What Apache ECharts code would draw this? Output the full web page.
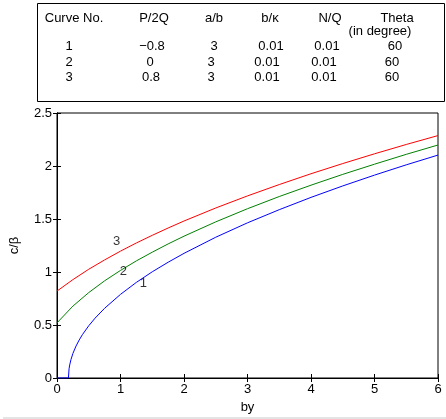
<!DOCTYPE html>
<html><head><meta charset="utf-8">
<script src="https://cdn.jsdelivr.net/npm/echarts@6/dist/echarts.min.js"></script>
<style>html,body{margin:0;padding:0;background:#fff}#c{width:446px;height:419px}</style>
</head><body><div id="c"></div>
<script>
// ---- data ----
var xTicks = [0, 1, 2, 3, 4, 5, 6];
var xs = [0,0.25,0.5,0.75,1,1.25,1.5,1.75,2,2.5,3,3.5,4,4.5,5,5.5,6];
var curve2 = [0.520,0.678,0.806,0.917,1.015,1.105,1.187,1.265,1.338,1.473,1.597,1.712,1.819,1.921,2.017,2.110,2.198];
var curve3 = [0.820,0.928,1.026,1.114,1.197,1.274,1.346,1.415,1.481,1.604,1.718,1.825,1.927,2.023,2.115,2.203,2.287];
var blueX = [0,0.18,0.19,0.2,0.22,0.25,0.3,0.35,0.4,0.5,0.6,0.75,1,1.25,1.5,1.75,2,2.5,3,3.5,4,4.5,5,5.5,6];
var curve1 = [0,0,0.087,0.123,0.174,0.231,0.302,0.359,0.409,0.493,0.565,0.658,0.789,0.902,1.002,1.092,1.176,1.328,1.464,1.588,1.704,1.812,1.914,2.011,2.103];
var curveLabels = [[0.94,1.29,'3'],[1.045,1.005,'2'],[1.36,0.895,'1']];
var tableHeader = ['Curve No.','P/2Q','a/b','b/\u03ba','N/Q','Theta'];
var tableHeader2 = ['','','','','','(in degree)'];
var tableRows = [
  ['1','\u22120.8','3','0.01','0.01','60'],
  ['2','0','3','0.01','0.01','60'],
  ['3','0.8','3','0.01','0.01','60']
];

function zip(a,b){return a.map(function(v,i){return [v,b[i]];});}

var FONT = '"Liberation Sans", Arial, Helvetica, sans-serif';
var FS = 13;
var headX = [74, 154, 214, 270, 330, 397];
var head2X = [0, 0, 0, 0, 0, 380];
var rowX = [
  [69, 152, 214, 271, 327, 395],
  [69, 150, 211, 267, 324, 392],
  [69, 151, 211, 267, 324, 392]
];
var rowY = [46, 62, 77];
var g = [];
g.push({type:'rect', shape:{x:37.5,y:3.5,width:407,height:98}, style:{fill:'none',stroke:'#000',lineWidth:1}});
g.push({type:'line', shape:{x1:3,y1:418,x2:446,y2:418}, style:{stroke:'#c8c8c8',lineWidth:1}});
function txt(t,x,y){
  g.push({type:'text', x:x, y:y, style:{text:t, font:FS+'px '+FONT, fill:'#000', textAlign:'center', textVerticalAlign:'middle'}});
}
tableHeader.forEach(function(t,i){ txt(t, headX[i], 18); });
tableHeader2.forEach(function(t,i){ if(t) txt(t, head2X[i], 31); });
tableRows.forEach(function(r,j){ r.forEach(function(t,i){ txt(t, rowX[j][i], rowY[j]); }); });

var axisCommon = {
  axisLine:{show:true, lineStyle:{color:'#000', width:1}},
  axisTick:{show:true, inside:true, length:4, lineStyle:{color:'#000'}},
  splitLine:{show:false}
};

var chart = echarts.init(document.getElementById('c'), null, {renderer:'canvas'});
chart.setOption({
  animation:false,
  backgroundColor:'#fff',
  textStyle:{fontFamily:FONT},
  graphic:g,
  grid:{left:55, right:8, top:113, bottom:38, show:true, borderColor:'#000', borderWidth:1},
  xAxis:[
    Object.assign({type:'value', min:0, max:6, interval:1, position:'bottom',
      name:'by', nameLocation:'middle', nameGap:23, nameTextStyle:{fontSize:FS, color:'#000', fontFamily:FONT},
      axisLabel:{fontSize:FS, color:'#000', margin:5, fontFamily:FONT}}, axisCommon),
    Object.assign({type:'value', min:0, max:6, interval:1, position:'top', axisLabel:{show:false}}, axisCommon)
  ],
  yAxis:[
    Object.assign({type:'value', min:0, max:2.5, interval:0.5, position:'left',
      name:'c/\u03b2', nameLocation:'middle', nameGap:36, nameRotate:90, nameTextStyle:{fontSize:FS, color:'#000', fontFamily:FONT},
      axisLabel:{fontSize:FS, color:'#000', margin:5, fontFamily:FONT}}, axisCommon),
    Object.assign({type:'value', min:0, max:2.5, interval:0.5, position:'right', axisLabel:{show:false}}, axisCommon)
  ],
  series:[
    {type:'line', data:zip(blueX, curve1), showSymbol:false, lineStyle:{color:'#0000ff', width:1}, z:3},
    {type:'line', data:zip(xs, curve2), showSymbol:false, lineStyle:{color:'#008000', width:1}, z:3},
    {type:'line', data:zip(xs, curve3), showSymbol:false, lineStyle:{color:'#ff0000', width:1}, z:3},
    {type:'scatter', data:curveLabels, symbolSize:1, itemStyle:{color:'rgba(0,0,0,0)'}, z:4, silent:true,
      label:{show:true, position:'inside', formatter:function(p){return p.value[2];}, fontSize:FS, color:'#000', fontFamily:FONT}}
  ]
});
</script></body></html>
